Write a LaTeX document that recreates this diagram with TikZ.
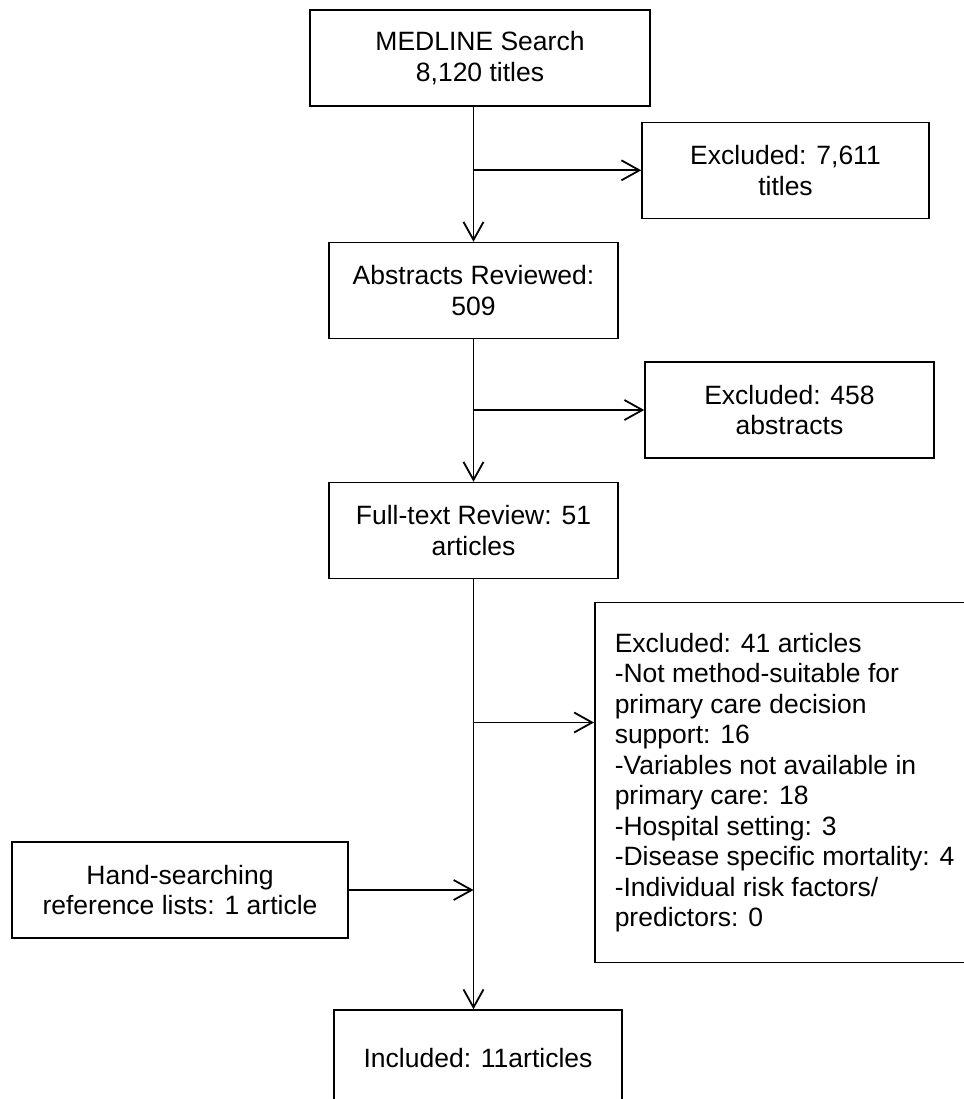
\documentclass[tikz,border=0pt]{standalone}
\usepackage{fontspec}
\setmainfont{Liberation Sans}
\usetikzlibrary{arrows.meta}
\begin{document}
\begin{tikzpicture}[x=0.5pt, y=-0.5pt, font=\fontsize{13.25}{15.25}\selectfont,
    >={Straight Barb[length=9pt,width=10pt]},
    stagebox/.style={draw, line width=0.75pt, inner sep=0pt, align=center, minimum height=48pt},
    flow/.style={->, line width=0.9pt}]
    \useasboundingbox (0,0) rectangle (964,1099);
    % boxes, positions in pixels of the original figure (y pointing down)
    \node[stagebox, minimum width=170pt] (search) at (480,58) {MEDLINE Search\\8,120 titles};
    \node[stagebox, minimum width=143.5pt] (exctitles) at (785.5,170.3) {Excluded: 7,611\\titles};
    \node[stagebox, minimum width=144.5pt] (abstracts) at (473.5,290.5) {Abstracts Reviewed:\\509};
    \node[stagebox, minimum width=144.5pt] (excabstracts) at (789.5,410) {Excluded: 458\\abstracts};
    \node[stagebox, minimum width=144.5pt] (fulltext) at (473.5,530.5) {Full-text Review: 51\\articles};
    \node[stagebox, anchor=west, align=left, inner xsep=10pt, minimum height=180pt] (excarticles) at (594,782.7)
        {Excluded: 41 articles\\-Not method-suitable for\\primary care decision\\support: 16\\-Variables not available in\\primary care: 18\\-Hospital setting: 3\\-Disease specific mortality: 4\\-Individual risk factors/\\predictors: 0};
    \node[stagebox, minimum width=168pt] (handsearch) at (180,890) {Hand-searching\\reference lists: 1 article};
    \node[stagebox, minimum width=144pt] (included) at (478,1058) {Included: 11articles};
    % connectors
    \coordinate (split) at (474,722.5);
    \draw[flow] (abstracts.north |- search.south) -- (abstracts.north);
    \draw[flow] (abstracts.north |- exctitles.west) -- (exctitles.west);
    \draw[flow] (abstracts.south) -- (fulltext.north);
    \draw[flow] (fulltext.north |- excabstracts.west) -- (excabstracts.west);
    \draw[flow] (fulltext.south) -- (fulltext.south |- included.north);
    \draw[flow] (split) -- (split -| excarticles.west);
    \draw[flow] (handsearch.east) -- (handsearch.east -| fulltext.south);
\end{tikzpicture}
\end{document}
